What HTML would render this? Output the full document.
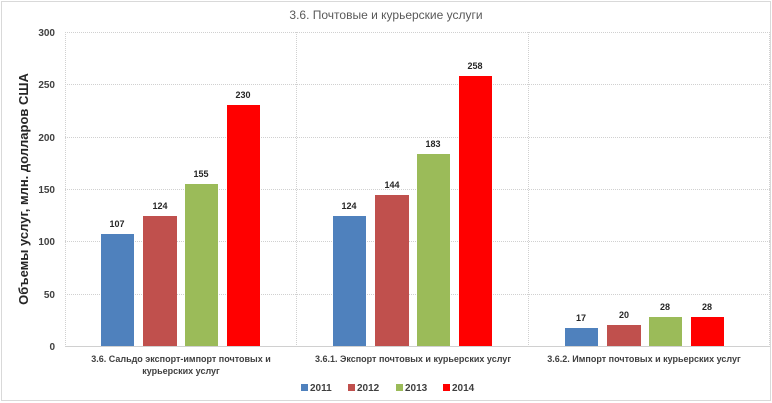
<!DOCTYPE html>
<html><head><meta charset="utf-8"><style>
body{margin:0;background:#fff}
svg{display:block;font-family:"Liberation Sans","DejaVu Sans",sans-serif}
</style></head><body>
<svg width="772" height="403" viewBox="0 0 772 403">
<rect x="1.5" y="1.5" width="769" height="399" fill="#fff" stroke="#d9d9d9" stroke-width="1"/>
<text x="386" y="19" text-anchor="middle" font-size="12" fill="#595959">3.6. Почтовые и курьерские услуги</text>
<g stroke="#d0d0d0" stroke-width="1" stroke-dasharray="1,1">
<line x1="65" y1="32.5" x2="770" y2="32.5"/>
<line x1="65" y1="84.5" x2="770" y2="84.5"/>
<line x1="65" y1="137.5" x2="770" y2="137.5"/>
<line x1="65" y1="189.5" x2="770" y2="189.5"/>
<line x1="65" y1="241.5" x2="770" y2="241.5"/>
<line x1="65" y1="294.5" x2="770" y2="294.5"/>
<line x1="65.5" y1="32" x2="65.5" y2="346"/>
<line x1="296.5" y1="32" x2="296.5" y2="346"/>
<line x1="528.5" y1="32" x2="528.5" y2="346"/>
<line x1="769.5" y1="32" x2="769.5" y2="346"/>
</g>
<line x1="65" y1="346.5" x2="770" y2="346.5" stroke="#d0d0d0"/>
<g font-size="10" font-weight="bold" fill="#404040" text-anchor="end">
<text x="55" y="36">300</text><text x="55" y="88">250</text><text x="55" y="141">200</text>
<text x="55" y="193">150</text><text x="55" y="245">100</text><text x="55" y="298">50</text><text x="55" y="350">0</text>
</g>
<text transform="translate(28,189) rotate(-90)" text-anchor="middle" font-size="13" font-weight="bold" fill="#262626">Объемы услуг, млн. долларов США</text>
<g>
<rect x="101" y="234" width="33" height="112" fill="#4f81bd"/>
<rect x="143" y="216" width="34" height="130" fill="#c0504d"/>
<rect x="185" y="184" width="33" height="162" fill="#9bbb59"/>
<rect x="227" y="105" width="33" height="241" fill="#ff0000"/>
<rect x="333" y="216" width="33" height="130" fill="#4f81bd"/>
<rect x="375" y="195" width="34" height="151" fill="#c0504d"/>
<rect x="417" y="154" width="33" height="192" fill="#9bbb59"/>
<rect x="459" y="76" width="33" height="270" fill="#ff0000"/>
<rect x="565" y="328" width="33" height="18" fill="#4f81bd"/>
<rect x="607" y="325" width="34" height="21" fill="#c0504d"/>
<rect x="649" y="317" width="33" height="29" fill="#9bbb59"/>
<rect x="691" y="317" width="33" height="29" fill="#ff0000"/>
</g>
<g font-size="9" font-weight="bold" fill="#262626" text-anchor="middle">
<text x="117" y="227">107</text><text x="160" y="209">124</text><text x="201" y="177">155</text><text x="243" y="98">230</text>
<text x="349" y="209">124</text><text x="392" y="188">144</text><text x="433" y="147">183</text><text x="475" y="69">258</text>
<text x="581" y="321">17</text><text x="624" y="318">20</text><text x="665" y="310">28</text><text x="707" y="310">28</text>
</g>
<g font-size="9" font-weight="bold" fill="#404040" text-anchor="middle">
<text x="181" y="362">3.6. Сальдо экспорт-импорт почтовых и</text>
<text x="181" y="374">курьерских услуг</text>
<text x="413" y="362">3.6.1. Экспорт почтовых и курьерских услуг</text>
<text x="644" y="362">3.6.2. Импорт почтовых и курьерских услуг</text>
</g>
<g font-size="10" font-weight="bold" fill="#404040">
<rect x="301" y="384" width="7" height="7" fill="#4f81bd"/><text x="310" y="391">2011</text>
<rect x="348" y="384" width="7" height="7" fill="#c0504d"/><text x="357" y="391">2012</text>
<rect x="396" y="384" width="7" height="7" fill="#9bbb59"/><text x="405" y="391">2013</text>
<rect x="443" y="384" width="7" height="7" fill="#ff0000"/><text x="452" y="391">2014</text>
</g>
</svg>
</body></html>
